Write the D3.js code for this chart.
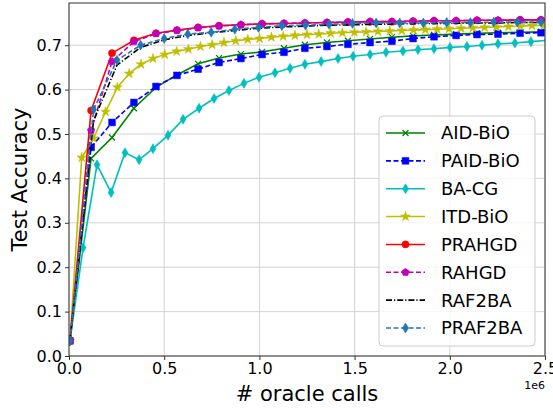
<!DOCTYPE html>
<html>
<head>
<meta charset="utf-8">
<script src="https://cdn.jsdelivr.net/npm/d3@7"></script>
<style>
  body { margin: 0; background: #fff; }
  text { font-family: "DejaVu Sans", sans-serif; fill: #000; }
</style>
</head>
<body>
<div id="chart"></div>
<script>
// oracle calls (in units of 1e6) for each sampling grid
const xGridA = [0.005, 0.116, 0.226, 0.341, 0.457, 0.567, 0.678, 0.788, 0.903, 1.014, 1.129, 1.239,
  1.355, 1.465, 1.581, 1.696, 1.807, 1.917, 2.033, 2.143, 2.253, 2.369, 2.479];
const xGridB = [0.005, 0.129, 0.252, 0.376, 0.500, 0.624, 0.747, 0.871, 0.995, 1.118, 1.242, 1.366,
  1.489, 1.613, 1.737, 1.861, 1.984, 2.108, 2.231, 2.355, 2.479];
const xGridC = [0.005, 0.074, 0.147, 0.221, 0.294, 0.368, 0.441, 0.520, 0.599, 0.683, 0.762, 0.840,
  0.919, 0.998, 1.082, 1.161, 1.239, 1.324, 1.413, 1.492, 1.581, 1.665, 1.754, 1.833, 1.917, 2.001,
  2.090, 2.169, 2.253, 2.342, 2.426, 2.511];
const xGridD = [0.005, 0.067, 0.129, 0.192, 0.254, 0.316, 0.378, 0.441, 0.503, 0.565, 0.627, 0.690,
  0.752, 0.814, 0.876, 0.939, 1.001, 1.063, 1.125, 1.187, 1.250, 1.312, 1.374, 1.436, 1.499, 1.561,
  1.623, 1.685, 1.748, 1.810, 1.872, 1.934, 1.996, 2.059, 2.121, 2.183, 2.245, 2.308, 2.370, 2.432, 2.494];

// test accuracy
const aidBio = [0.034, 0.445, 0.492, 0.558, 0.605, 0.633, 0.658, 0.671, 0.680, 0.685, 0.693, 0.701,
  0.706, 0.710, 0.714, 0.718, 0.721, 0.723, 0.725, 0.727, 0.728, 0.729, 0.730];
const paidBio = [0.034, 0.470, 0.526, 0.571, 0.607, 0.632, 0.646, 0.661, 0.670, 0.679, 0.684, 0.693,
  0.697, 0.702, 0.706, 0.709, 0.715, 0.719, 0.722, 0.724, 0.725, 0.727, 0.728];
const baCg = [0.034, 0.244, 0.431, 0.368, 0.458, 0.442, 0.467, 0.497, 0.533, 0.558, 0.580, 0.598,
  0.614, 0.628, 0.638, 0.648, 0.657, 0.663, 0.670, 0.675, 0.679, 0.684, 0.687, 0.690, 0.692, 0.695,
  0.697, 0.700, 0.703, 0.705, 0.708, 0.711];
const itdBio = [0.034, 0.447, 0.490, 0.550, 0.605, 0.636, 0.657, 0.670, 0.679, 0.686, 0.691, 0.697,
  0.701, 0.706, 0.710, 0.713, 0.715, 0.718, 0.720, 0.722, 0.724, 0.725, 0.727, 0.728, 0.729, 0.730,
  0.731, 0.732, 0.733, 0.734, 0.735, 0.736, 0.737, 0.738, 0.739, 0.740, 0.741, 0.742, 0.743, 0.744, 0.745];
const prahgd = [0.034, 0.553, 0.682, 0.711, 0.727, 0.734, 0.740, 0.744, 0.746, 0.748, 0.749, 0.750,
  0.751, 0.752, 0.753, 0.753, 0.754, 0.755, 0.755, 0.756, 0.756, 0.757, 0.757];
const rahgd = [0.034, 0.508, 0.663, 0.708, 0.726, 0.733, 0.739, 0.743, 0.746, 0.748, 0.749, 0.750,
  0.751, 0.752, 0.753, 0.753, 0.754, 0.755, 0.755, 0.756, 0.756, 0.757, 0.757];
const raf2ba = [0.034, 0.530, 0.655, 0.695, 0.712, 0.722, 0.728, 0.733, 0.738, 0.741, 0.743, 0.745,
  0.746, 0.747, 0.748, 0.749, 0.749, 0.750, 0.750, 0.751, 0.751];
const praf2ba = [0.034, 0.555, 0.666, 0.700, 0.715, 0.725, 0.729, 0.736, 0.740, 0.744, 0.745, 0.747,
  0.749, 0.750, 0.750, 0.750, 0.751, 0.751, 0.752, 0.752, 0.752];

const xTicks = [0, 0.5, 1.0, 1.5, 2.0, 2.5];
const yTicks = [0, 0.1, 0.2, 0.3, 0.4, 0.5, 0.6, 0.7];

const series = [
  { name: "AID-BiO",  x: xGridA, y: aidBio,  color: "#008000", dash: null,             marker: "x" },
  { name: "PAID-BiO", x: xGridA, y: paidBio, color: "#0000ff", dash: "5,2.5",          marker: "square" },
  { name: "BA-CG",    x: xGridC, y: baCg,    color: "#00bfbf", dash: null,             marker: "diamond" },
  { name: "ITD-BiO",  x: xGridD, y: itdBio,  color: "#bfbf00", dash: null,             marker: "star" },
  { name: "PRAHGD",   x: xGridA, y: prahgd,  color: "#ff0000", dash: null,             marker: "circle" },
  { name: "RAHGD",    x: xGridA, y: rahgd,   color: "#bf00bf", dash: "5,2.5",          marker: "pentagon" },
  { name: "RAF2BA",   x: xGridB, y: raf2ba,  color: "#000000", dash: "6,2,1.2,2",      marker: null },
  { name: "PRAF2BA",  x: xGridB, y: praf2ba, color: "#1f77b4", dash: "5,2.5",          marker: "diamond" }
];

const width = 553, height = 409;
const margin = { left: 69, right: 8, top: 3, bottom: 53 };

const x = d3.scaleLinear().domain([0, 2.5]).range([margin.left, width - margin.right]);
const y = d3.scaleLinear().domain([0, 0.795]).range([height - margin.bottom, margin.top]);

const svg = d3.select("#chart").append("svg")
  .attr("width", width)
  .attr("height", height);

svg.append("defs").append("clipPath").attr("id", "plotclip")
  .append("rect")
  .attr("x", x(0)).attr("y", y(0.795))
  .attr("width", x(2.5) - x(0)).attr("height", y(0) - y(0.795));

// grid
svg.append("g").selectAll("line").data(xTicks).join("line")
  .attr("x1", d => x(d)).attr("x2", d => x(d))
  .attr("y1", y(0)).attr("y2", y(0.795))
  .attr("stroke", "#d3d3d3").attr("stroke-width", 1);
svg.append("g").selectAll("line").data(yTicks).join("line")
  .attr("x1", x(0)).attr("x2", x(2.5))
  .attr("y1", d => y(d)).attr("y2", d => y(d))
  .attr("stroke", "#d3d3d3").attr("stroke-width", 1);

// axes
const xAxis = svg.append("g")
  .attr("transform", `translate(0,${y(0)})`)
  .call(d3.axisBottom(x).tickValues(xTicks).tickFormat(d3.format(".1f")).tickSize(4).tickPadding(3));
const yAxis = svg.append("g")
  .attr("transform", `translate(${x(0)},0)`)
  .call(d3.axisLeft(y).tickValues(yTicks).tickFormat(d3.format(".1f")).tickSize(4).tickPadding(3));
[xAxis, yAxis].forEach(a => {
  a.select(".domain").remove();
  a.selectAll("text").attr("font-size", "16px").attr("font-family", "DejaVu Sans").attr("fill", "#000");
  a.selectAll("line").attr("stroke", "#333");
});

// marker shapes
function markerPath(type) {
  if (type === "square") return d3.symbol(d3.symbolSquare, 46)();
  if (type === "circle") return d3.symbol(d3.symbolCircle, 40)();
  if (type === "star") return d3.symbol(d3.symbolStar, 30)();
  if (type === "diamond") return "M0,-5L3,0L0,5L-3,0Z";
  if (type === "pentagon") {
    const pts = d3.range(5).map(i => {
      const a = -Math.PI / 2 + i * 2 * Math.PI / 5;
      return [4 * Math.cos(a), 4 * Math.sin(a)];
    });
    return "M" + pts.map(p => p.join(",")).join("L") + "Z";
  }
  if (type === "x") return "M-3,-3L3,3M-3,3L3,-3";
  return null;
}

const line = d3.line().x(d => x(d[0])).y(d => y(d[1]));

const plot = svg.append("g").attr("clip-path", "url(#plotclip)");

series.forEach(s => {
  const pts = s.x.map((v, i) => [v, s.y[i]]);
  const g = plot.append("g");
  g.append("path")
    .attr("d", line(pts))
    .attr("fill", "none")
    .attr("stroke", s.color)
    .attr("stroke-width", 1.6)
    .attr("stroke-dasharray", s.dash);
  if (s.marker) {
    g.selectAll("path.m").data(pts).join("path")
      .attr("class", "m")
      .attr("transform", d => `translate(${x(d[0])},${y(d[1])})`)
      .attr("d", markerPath(s.marker))
      .attr("fill", s.marker === "x" ? "none" : s.color)
      .attr("stroke", s.color)
      .attr("stroke-width", s.marker === "x" ? 1.2 : 0.5);
  }
});

// frame
svg.append("rect")
  .attr("x", x(0)).attr("y", y(0.795))
  .attr("width", x(2.5) - x(0)).attr("height", y(0) - y(0.795))
  .attr("fill", "none").attr("stroke", "#333").attr("stroke-width", 1);

// axis labels
svg.append("text")
  .attr("x", (x(0) + x(2.5)) / 2).attr("y", 401)
  .attr("text-anchor", "middle").attr("font-size", "21px")
  .text("# oracle calls");
svg.append("text")
  .attr("transform", `translate(27,${(y(0) + y(0.795)) / 2}) rotate(-90)`)
  .attr("text-anchor", "middle").attr("font-size", "21px")
  .text("Test Accuracy");
svg.append("text")
  .attr("x", x(2.5)).attr("y", 389)
  .attr("text-anchor", "end").attr("font-size", "11px")
  .text("1e6");

// legend
const legend = svg.append("g");
legend.append("rect")
  .attr("x", 379).attr("y", 116).attr("width", 156).attr("height", 230)
  .attr("rx", 4)
  .attr("fill", "#fff").attr("fill-opacity", 0.8)
  .attr("stroke", "#cccccc").attr("stroke-width", 1);

const rowY = d3.scalePoint().domain(series.map(s => s.name)).range([133, 328]);
series.forEach(s => {
  const cy = rowY(s.name);
  legend.append("line")
    .attr("x1", 386).attr("x2", 425).attr("y1", cy).attr("y2", cy)
    .attr("stroke", s.color).attr("stroke-width", 1.6)
    .attr("stroke-dasharray", s.dash);
  if (s.marker) {
    legend.append("path")
      .attr("transform", `translate(405.5,${cy})`)
      .attr("d", markerPath(s.marker))
      .attr("fill", s.marker === "x" ? "none" : s.color)
      .attr("stroke", s.color)
      .attr("stroke-width", s.marker === "x" ? 1.2 : 0.5);
  }
  legend.append("text")
    .attr("x", 441).attr("y", cy).attr("dy", "0.36em")
    .attr("font-size", "18px")
    .text(s.name);
});
</script>
</body>
</html>
